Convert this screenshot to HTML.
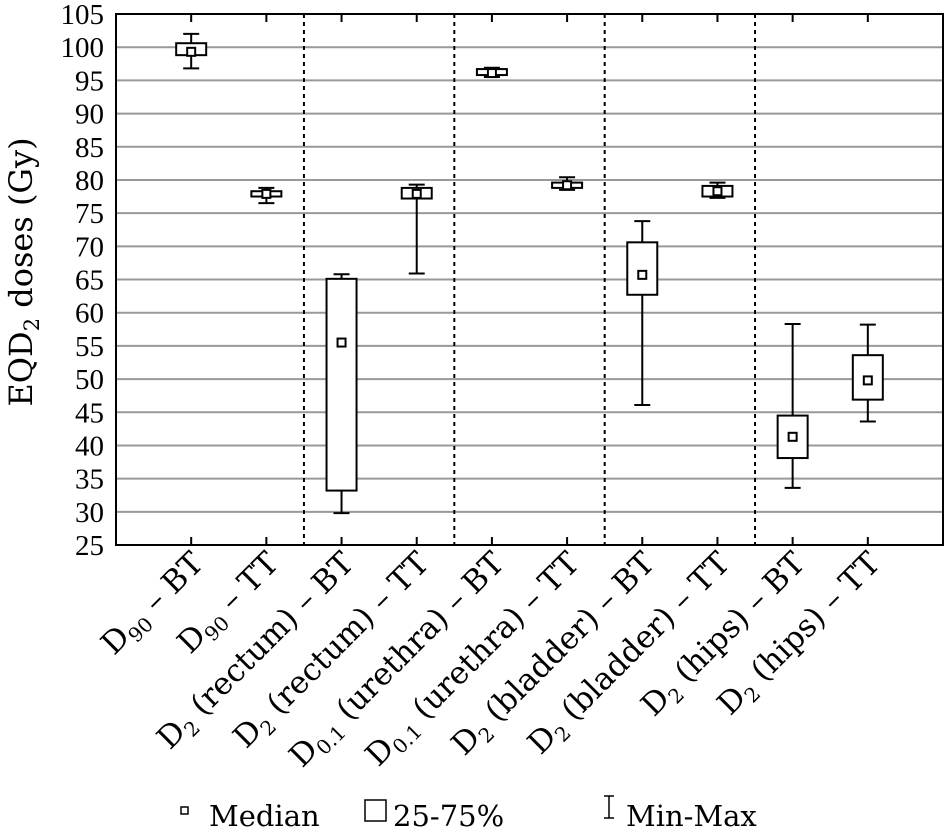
<!DOCTYPE html>
<html><head><meta charset="utf-8"><style>
html,body{margin:0;padding:0;background:#fff}
svg{display:block;font-family:"Liberation Serif",serif}
.w{font-family:"DejaVu Serif","Liberation Serif",serif}
</style></head><body>
<svg id="chart" width="945" height="829" viewBox="0 0 945 829">
<g id="grid"></g>
<g id="seps"></g>
<g id="boxes"></g>
<rect x="116" y="14" width="827" height="531" fill="none" stroke="#000" stroke-width="2"/>
<g id="yticks" font-size="29" text-anchor="end"></g>
<g id="xlabels" class="w" font-size="31" text-anchor="end"></g>
<text class="w" transform="translate(32,272) rotate(-90)" text-anchor="middle" font-size="32">EQD<tspan font-size="21" dy="7">2</tspan><tspan dy="-7"> doses (Gy)</tspan></text>
<g class="w" font-size="29">
<g><rect x="181" y="807" width="7" height="7" fill="none" stroke="#000" stroke-width="1.5"/><text x="209" y="826">Median</text></g>
<g><rect x="365" y="800" width="21" height="21" fill="none" stroke="#000" stroke-width="1.5"/><text x="393" y="826">25-75%</text></g>
<g><path d="M604 796h10M609 796v22M604 818h10" stroke="#000" stroke-width="1.5" fill="none"/><text x="626" y="826">Min-Max</text></g>
</g>
</svg>
<script>
const categories=[["D","90"," – BT"],["D","90"," – TT"],["D","2"," (rectum) – BT"],["D","2"," (rectum) – TT"],["D","0.1"," (urethra) – BT"],["D","0.1"," (urethra) – TT"],["D","2"," (bladder) – BT"],["D","2"," (bladder) – TT"],["D","2"," (hips) – BT"],["D","2"," (hips) – TT"]];
const mins=[96.8,76.5,29.8,65.9,95.5,78.5,46.1,77.3,33.6,43.6];
const q1s=[98.8,77.5,33.2,77.2,95.8,78.8,62.7,77.5,38.1,46.9];
const medians=[99.3,77.9,55.5,77.9,96.1,79.2,65.7,78.3,41.3,49.8];
const q3s=[100.6,78.3,65.1,78.8,96.7,79.6,70.6,79.1,44.5,53.6];
const maxs=[102,78.8,65.8,79.3,96.9,80.4,73.8,79.6,58.3,58.2];
const yTicks=[25,30,35,40,45,50,55,60,65,70,75,80,85,90,95,100,105];
const NS="http://www.w3.org/2000/svg";
const L=116,R=943,T=14,B=545,ymin=25,ymax=105;
const y=v=>B-(v-ymin)/(ymax-ymin)*(B-T);
const step=(R-L)/(categories.length+1);
const x=i=>L+(i+1)*step;
function mk(tag,attrs,parent){const e=document.createElementNS(NS,tag);for(const k in attrs)e.setAttribute(k,attrs[k]);parent.appendChild(e);return e;}
const grid=document.getElementById('grid'),yt=document.getElementById('yticks');
yTicks.forEach(v=>{
 if(v>ymin&&v<ymax){const l=mk('line',{x1:L,x2:R,y1:y(v),y2:y(v),stroke:'#999','stroke-width':2},grid);
 
 }
 const t=mk('text',{x:104,y:y(v)+10},yt);t.textContent=v;
 
 
});
const seps=document.getElementById('seps');
for(let k=1;k<categories.length/2;k++){const sx=L+(2*k+0.5)*step;
 const l=mk('line',{x1:sx,x2:sx,y1:T,y2:B,stroke:'#000','stroke-width':2,'stroke-dasharray':'4 4'},seps);
 
 }
const bx=document.getElementById('boxes'),xl=document.getElementById('xlabels');
categories.forEach((c,i)=>{
 const cx=x(i);
 mk('line',{x1:cx,x2:cx,y1:T,y2:T+8,stroke:'#000','stroke-width':2},bx);
 mk('line',{x1:cx,x2:cx,y1:B,y2:B-8,stroke:'#000','stroke-width':2},bx);
 const g=mk('g',{fill:'none',stroke:'#000','stroke-width':2},bx);
 
 
 mk('path',{d:`M${cx} ${y(maxs[i])}V${y(q3s[i])}M${cx} ${y(q1s[i])}V${y(mins[i])}M${cx-8} ${y(maxs[i])}h16M${cx-8} ${y(mins[i])}h16`},g);
 mk('rect',{x:cx-15,y:y(q3s[i]),width:30,height:Math.max(1,y(q1s[i])-y(q3s[i])),fill:'#fff'},g);
 mk('rect',{x:cx-4,y:y(medians[i])-4,width:8,height:8,fill:'#fff'},g);
 const t=mk('text',{transform:`translate(${cx+14},${B+20}) rotate(-45)`},xl);
 
 
 const a=mk('tspan',{},t);a.textContent=c[0];
 const b=mk('tspan',{'font-size':20,dy:7},t);b.textContent=c[1];
 const d=mk('tspan',{dy:-7},t);d.textContent=c[2];
});
</script>
</body></html>
